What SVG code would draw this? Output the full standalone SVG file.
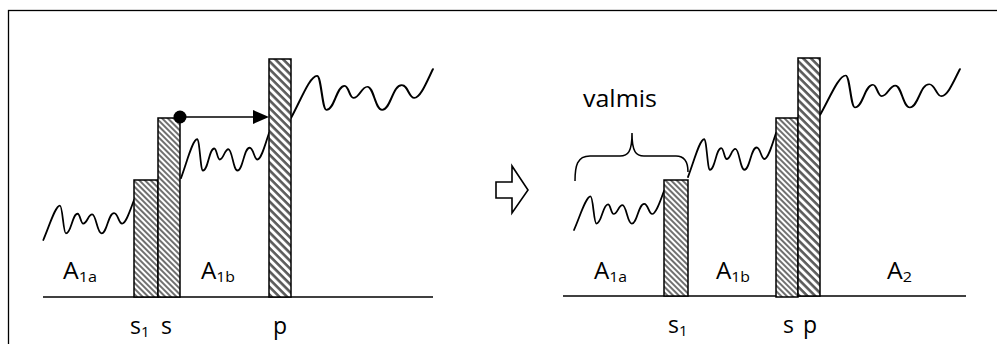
<svg xmlns="http://www.w3.org/2000/svg" width="997" height="344" viewBox="0 0 997 344">
  <defs>
    <style>
      .frame { fill: none; stroke: #000; stroke-width: 1.3; }
      .base { stroke: #000; stroke-width: 1.3; fill: none; }
      .bar-n { fill: url(#hatchNarrow); stroke: #000; stroke-width: 1.5; }
      .bar-w { fill: url(#hatchWide); stroke: #000; stroke-width: 1.5; }
      .wave { fill: none; stroke: #000; stroke-linejoin: round; stroke-linecap: round; }
      .lbl { font-family: "Open Sans", "Liberation Sans", sans-serif; font-size: 23px; fill: #000; }
      .sub { font-size: 15px; }
      .conn { stroke: #000; stroke-width: 1.5; fill: none; }
    </style>
    <!-- fine diagonal hatch for the stepped walls -->
    <pattern id="hatchNarrow" patternUnits="userSpaceOnUse" width="8" height="4" patternTransform="rotate(45)">
      <rect width="8" height="4" fill="#fff"/>
      <rect width="8" height="2" fill="#707070"/>
    </pattern>
    <!-- coarser hatch for the p wall -->
    <pattern id="hatchWide" patternUnits="userSpaceOnUse" width="10" height="5.5" patternTransform="rotate(45)">
      <rect width="10" height="5.5" fill="#fff"/>
      <rect width="10" height="2.6" fill="#5a5a5a"/>
    </pattern>
    <!-- irregular surface profile, start at origin -->
    <path id="profile" class="wave"
      d="M0,0 C6,-14 12,-35 16.7,-35 C19.4,-35 20,-6.7 22.7,-6.7 C28,-6.7 29,-26.7 34.4,-26.7 C37,-26.7 37.5,-16.7 40,-16.7 C44,-16.7 45,-26 49,-26 C53,-26 54,-6.7 58.4,-6.7 C64,-6.7 65,-27.3 71,-27.3 C75,-27.3 75.5,-16.7 79,-16.7 C83,-16.7 87,-30 91,-40.7"/>
  </defs>

  <rect class="frame" x="8.5" y="10.5" width="1000" height="400"/>

  <!-- left: before -->
  <g id="left-ground">
    <line class="base" x1="43" y1="297" x2="433" y2="297"/>
    <use href="#profile" stroke-width="1.8" transform="translate(43.3,240) scale(0.997,0.983)"/>
    <use href="#profile" stroke-width="1.8" transform="translate(181,178) scale(0.967,1.106)"/>
    <use href="#profile" stroke-width="1.35" transform="translate(291,118) scale(1.56,1.204)"/>
  </g>
  <g id="left-s1"><rect class="bar-n" x="134" y="180" width="24" height="117"/></g>
  <g id="left-s"><rect class="bar-n" x="158" y="118" width="22" height="179"/></g>
  <g id="left-p"><rect class="bar-w" x="269" y="59" width="22" height="238"/></g>

  <g id="connectors">
    <circle cx="180" cy="117" r="6.5" fill="#000"/>
    <line class="conn" x1="180" y1="117" x2="256" y2="117"/>
    <polygon points="253,110 269,117 253,124" fill="#000"/>
  </g>

  <g id="left-labels">
    <text class="lbl" x="63" y="279" textLength="34" lengthAdjust="spacingAndGlyphs">A<tspan class="sub" dy="3">1a</tspan></text>
    <text class="lbl" x="201" y="279" textLength="34" lengthAdjust="spacingAndGlyphs">A<tspan class="sub" dy="3">1b</tspan></text>
    <text class="lbl" x="130" y="334">s<tspan class="sub" dy="3">1</tspan></text>
    <text class="lbl" x="161" y="334">s</text>
    <text class="lbl" x="273" y="334">p</text>
  </g>

  <!-- transition arrow -->
  <g id="transition">
    <polygon points="496,182 512,182 512,166 528,190 512,213 512,198 496,198" fill="#fff" stroke="#000" stroke-width="1.6" stroke-linejoin="miter"/>
  </g>

  <!-- right: after -->
  <g id="right-ground">
    <line class="base" x1="563" y1="296" x2="966" y2="296"/>
    <use href="#profile" stroke-width="1.8" transform="translate(574,230) scale(0.989,0.958)"/>
    <use href="#profile" stroke-width="1.8" transform="translate(688,177) scale(0.967,1.081)"/>
    <use href="#profile" stroke-width="1.35" transform="translate(820,115) scale(1.538,1.13)"/>
  </g>
  <g id="right-s1"><rect class="bar-n" x="664" y="180" width="24" height="116"/></g>
  <g id="right-s"><rect class="bar-n" x="776" y="118" width="22" height="179"/></g>
  <g id="right-p"><rect class="bar-w" x="798" y="58" width="22" height="238"/></g>

  <g id="valmis">
    <path class="conn" stroke-width="1.4" d="M575,181 C575,166 577,156 590,156 L620,156 C628,156 632,152 632,133 C632,152 636,156 644,156 L676,156 C684,156 688,162 688,172"/>
    <text class="lbl" x="583" y="107" textLength="74" lengthAdjust="spacingAndGlyphs">valmis</text>
  </g>

  <g id="right-labels">
    <text class="lbl" x="594" y="279" textLength="33" lengthAdjust="spacingAndGlyphs">A<tspan class="sub" dy="3">1a</tspan></text>
    <text class="lbl" x="716" y="279" textLength="34" lengthAdjust="spacingAndGlyphs">A<tspan class="sub" dy="3">1b</tspan></text>
    <text class="lbl" x="887" y="279" textLength="25" lengthAdjust="spacingAndGlyphs">A<tspan class="sub" dy="3">2</tspan></text>
    <text class="lbl" x="668" y="333">s<tspan class="sub" dy="3">1</tspan></text>
    <text class="lbl" x="783" y="333">s</text>
    <text class="lbl" x="803" y="333">p</text>
  </g>
</svg>
